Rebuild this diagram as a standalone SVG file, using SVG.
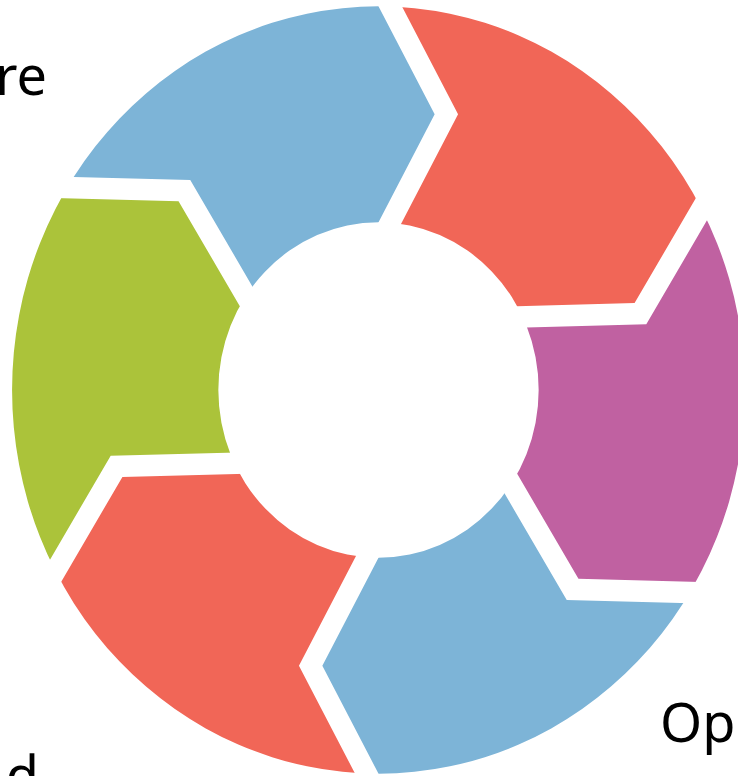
<svg xmlns="http://www.w3.org/2000/svg" width="738" height="776" viewBox="0 0 738 776">
  <style>
    .lbl { font-family: "Noto Sans", "Open Sans", "Liberation Sans", sans-serif; font-size: 54px; fill: #000000; }
    .blue { fill: #7db4d7; }
    .red { fill: #f16657; }
    .purple { fill: #c061a1; }
    .green { fill: #abc33a; }
  </style>
  <defs>
    <clipPath id="ring" clipPathUnits="userSpaceOnUse">
      <path clip-rule="evenodd" d="M383.7,0 A383.7,383.7 0 1,0 -383.7,0 A383.7,383.7 0 1,0 383.7,0 Z M167.7,0 A167.7,167.7 0 1,0 -167.7,0 A167.7,167.7 0 1,0 167.7,0 Z"/>
    </clipPath>
    <polygon id="seg" points="59.7,-34.3 275.7,83.3 491.7,-34.3 700,0 606.2,350 350,606.2 296.77,396.41 86.93,268.16 80.77,22.30 0,0"/>
  </defs>
  <rect x="0" y="0" width="738" height="776" fill="#ffffff"/>
  <g id="cycle" transform="translate(378.5,390) scale(0.955,1)">
    <g id="seg-top-right" clip-path="url(#ring)"><use href="#seg" class="red" transform="rotate(-90)"/></g>
    <g id="seg-right" clip-path="url(#ring)"><use href="#seg" class="purple" transform="rotate(-30)"/></g>
    <g id="seg-bottom-right" clip-path="url(#ring)"><use href="#seg" class="blue" transform="rotate(30)"/></g>
    <g id="seg-bottom-left" clip-path="url(#ring)"><use href="#seg" class="red" transform="rotate(90)"/></g>
    <g id="seg-left" clip-path="url(#ring)"><use href="#seg" class="green" transform="rotate(150)"/></g>
    <g id="seg-top-left" clip-path="url(#ring)"><use href="#seg" class="blue" transform="rotate(210)"/></g>
  </g>
  <g id="connectors"></g>
  <g id="labels">
    <text id="label-top-left" class="lbl" x="47" y="95" text-anchor="end">re</text>
    <text id="label-bottom-right" class="lbl" x="660" y="742">Op</text>
    <text id="label-bottom-left" class="lbl" x="39" y="795" text-anchor="end">d</text>
  </g>
</svg>
